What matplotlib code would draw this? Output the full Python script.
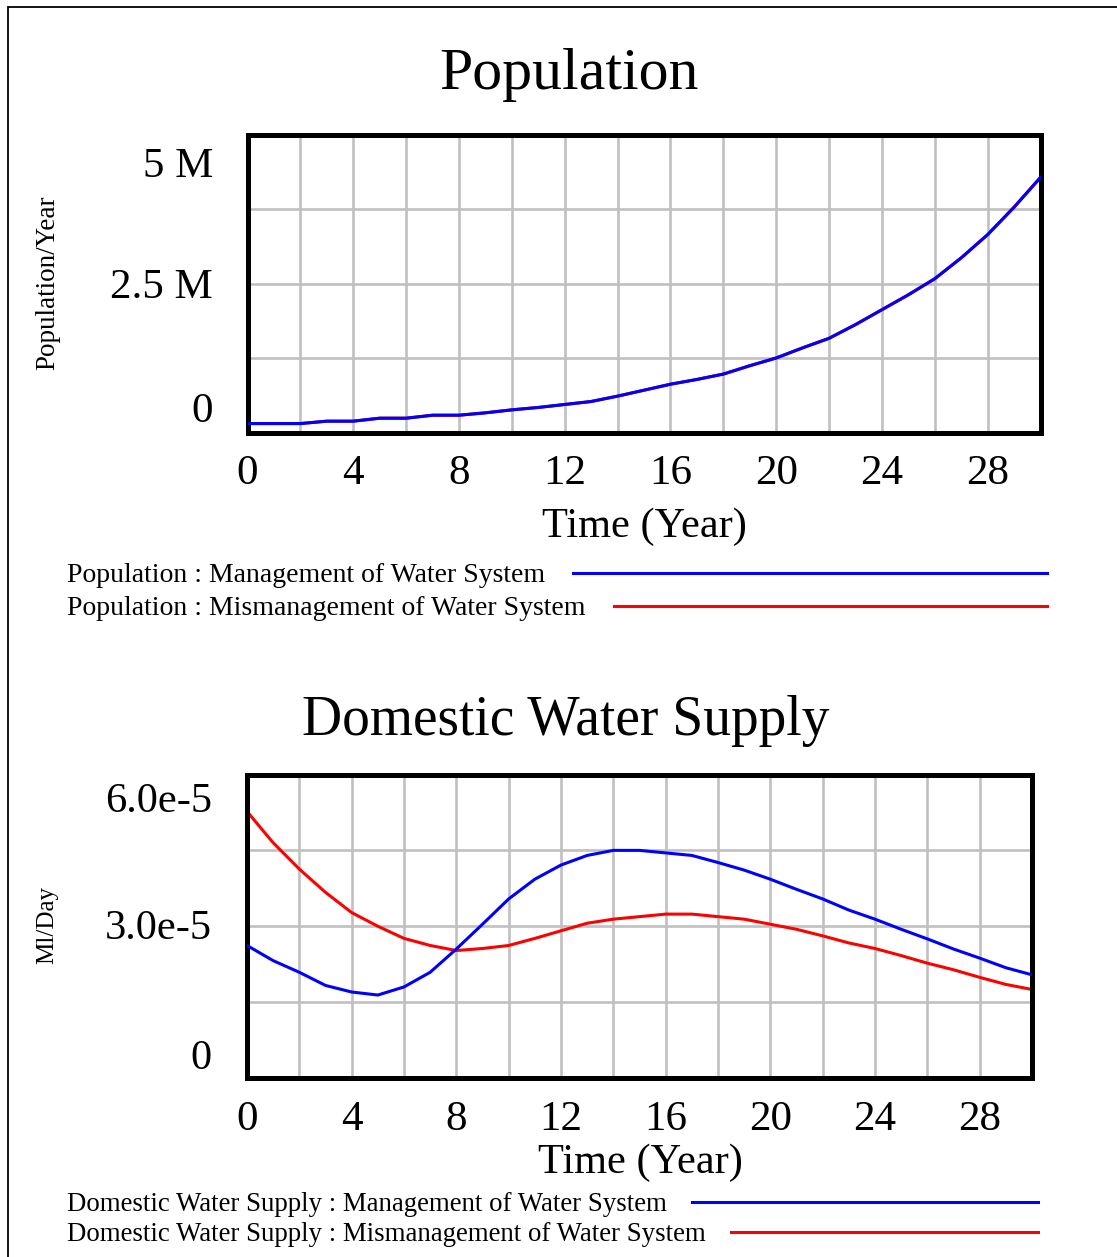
import matplotlib
matplotlib.use("Agg")
import matplotlib.pyplot as plt
from matplotlib.lines import Line2D
from matplotlib.patches import Rectangle

# ---------------- data ----------------
years = list(range(0, 31))

pop_management = [0.15e6, 0.15e6, 0.15e6, 0.19e6, 0.19e6, 0.24e6, 0.24e6, 0.29e6, 0.29e6, 0.33e6,
                  0.38e6, 0.42e6, 0.47e6, 0.52e6, 0.61e6, 0.71e6, 0.81e6, 0.89e6, 0.98e6, 1.12e6,
                  1.25e6, 1.42e6, 1.58e6, 1.81e6, 2.06e6, 2.31e6, 2.58e6, 2.93e6, 3.32e6, 3.78e6,
                  4.28e6]
pop_mismanagement = list(pop_management)  # identical, hidden beneath the blue line

dws_management = [2.62e-5, 2.32e-5, 2.09e-5, 1.83e-5, 1.70e-5, 1.64e-5, 1.80e-5, 2.09e-5, 2.55e-5, 3.04e-5,
                  3.54e-5, 3.93e-5, 4.21e-5, 4.40e-5, 4.50e-5, 4.50e-5, 4.45e-5, 4.40e-5, 4.26e-5, 4.11e-5,
                  3.93e-5, 3.73e-5, 3.54e-5, 3.32e-5, 3.14e-5, 2.94e-5, 2.75e-5, 2.55e-5, 2.37e-5, 2.18e-5,
                  2.04e-5]
dws_mismanagement = [5.27e-5, 4.65e-5, 4.13e-5, 3.67e-5, 3.27e-5, 3.00e-5, 2.76e-5, 2.62e-5, 2.52e-5, 2.56e-5,
                     2.62e-5, 2.76e-5, 2.91e-5, 3.06e-5, 3.14e-5, 3.19e-5, 3.24e-5, 3.24e-5, 3.19e-5, 3.14e-5,
                     3.04e-5, 2.94e-5, 2.81e-5, 2.67e-5, 2.56e-5, 2.42e-5, 2.27e-5, 2.14e-5, 1.99e-5, 1.85e-5,
                     1.75e-5]

x_ticks = [0, 4, 8, 12, 16, 20, 24, 28]
pop_ylabels = ["5 M", "2.5 M", "0"]
dws_ylabels = ["6.0e-5", "3.0e-5", "0"]

pop_legend = ["Population : Management of Water System",
              "Population : Mismanagement of Water System"]
dws_legend = ["Domestic Water Supply : Management of Water System",
              "Domestic Water Supply : Mismanagement of Water System"]

BLUE = "#0000ff"
RED = "#ff0000"
GRID = "#c0c0c0"

W, H = 1117, 1257
plt.rcParams['font.family'] = ['Liberation Serif', 'DejaVu Serif']

fig = plt.figure(figsize=(W / 100, H / 100), dpi=100)
fig.patch.set_facecolor("white")


def fx(x):
    return x / W


def fy(y):
    return 1 - y / H


def ptext(x, y, s, **kw):
    fig.text(fx(x), fy(y), s, **kw)


# outer border
fig.add_artist(Rectangle((fx(8), fy(1300)), fx(1200), fy(7) - fy(1300), transform=fig.transFigure,
                         fill=False, edgecolor="black", linewidth=1.3))

TICK_FS = 31


def make_axes(left, top, right, bottom, ymax):
    ax = fig.add_axes([fx(left), fy(bottom), fx(right - left), (bottom - top) / H])
    ax.set_xlim(0, 30)
    ax.set_ylim(0, ymax)
    for s in ax.spines.values():
        s.set_linewidth(3.6)
        s.set_color("black")
        s.set_capstyle("projecting")
    for xv in range(2, 30, 2):
        ax.axvline(xv, color=GRID, linewidth=1.9, zorder=0)
    for q in (0.25, 0.5, 0.75):
        ax.axhline(q * ymax, color=GRID, linewidth=1.9, zorder=0)
    ax.set_xticks(x_ticks)
    ax.set_xticklabels([str(t) for t in x_ticks], fontsize=TICK_FS)
    ax.tick_params(axis='x', length=0, pad=16)
    ax.set_yticks([])
    return ax


# ---------- Population ----------
ax1 = make_axes(247.5, 134.5, 1040.5, 432.5, 5e6)
ax1.plot(years, pop_mismanagement, color=RED, linewidth=2.2, zorder=2)
ax1.plot(years, pop_management, color=BLUE, linewidth=2.2, zorder=3)

ptext(569, 89, "Population", fontsize=43, ha="center", va="baseline")
for lab, yb in zip(pop_ylabels, [177, 297.5, 422]):
    ptext(213, yb, lab, fontsize=TICK_FS, ha="right", va="baseline")
ptext(48, 283, "Population/Year", fontsize=19.5, rotation=90, ha="center", va="center")
ptext(644, 537, "Time (Year)", fontsize=30.5, ha="center", va="baseline")

# ---------- Domestic Water Supply ----------
ax2 = make_axes(247, 774.5, 1032, 1078, 6e-5)
ax2.plot(years, dws_management, color=BLUE, linewidth=2.2, zorder=3)
ax2.plot(years, dws_mismanagement, color=RED, linewidth=2.2, zorder=2)

ptext(566, 735, "Domestic Water Supply", fontsize=40, ha="center", va="baseline")
for lab, yb in zip(dws_ylabels, [812, 939, 1069]):
    ptext(212, yb, lab, fontsize=30.5, ha="right", va="baseline")
ptext(47, 925, "Ml/Day", fontsize=18, rotation=90, ha="center", va="center")
ptext(640, 1173, "Time (Year)", fontsize=30.5, ha="center", va="baseline")


# ---------- legends ----------
def legend_row(text, ybase, yline, x0, x1, color, fs):
    ptext(67, ybase, text, fontsize=fs, ha="left", va="baseline")
    fig.add_artist(Line2D([fx(x0), fx(x1)], [fy(yline), fy(yline)], transform=fig.transFigure,
                          color=color, linewidth=2.2))


legend_row(pop_legend[0], 582, 573, 573, 1047, BLUE, 20)
legend_row(pop_legend[1], 615, 606, 614, 1047, RED, 20)
legend_row(dws_legend[0], 1211, 1202, 692, 1038, BLUE, 19.4)
legend_row(dws_legend[1], 1241, 1232, 731, 1038, RED, 19.4)

fig.savefig("out.png", dpi=100)
